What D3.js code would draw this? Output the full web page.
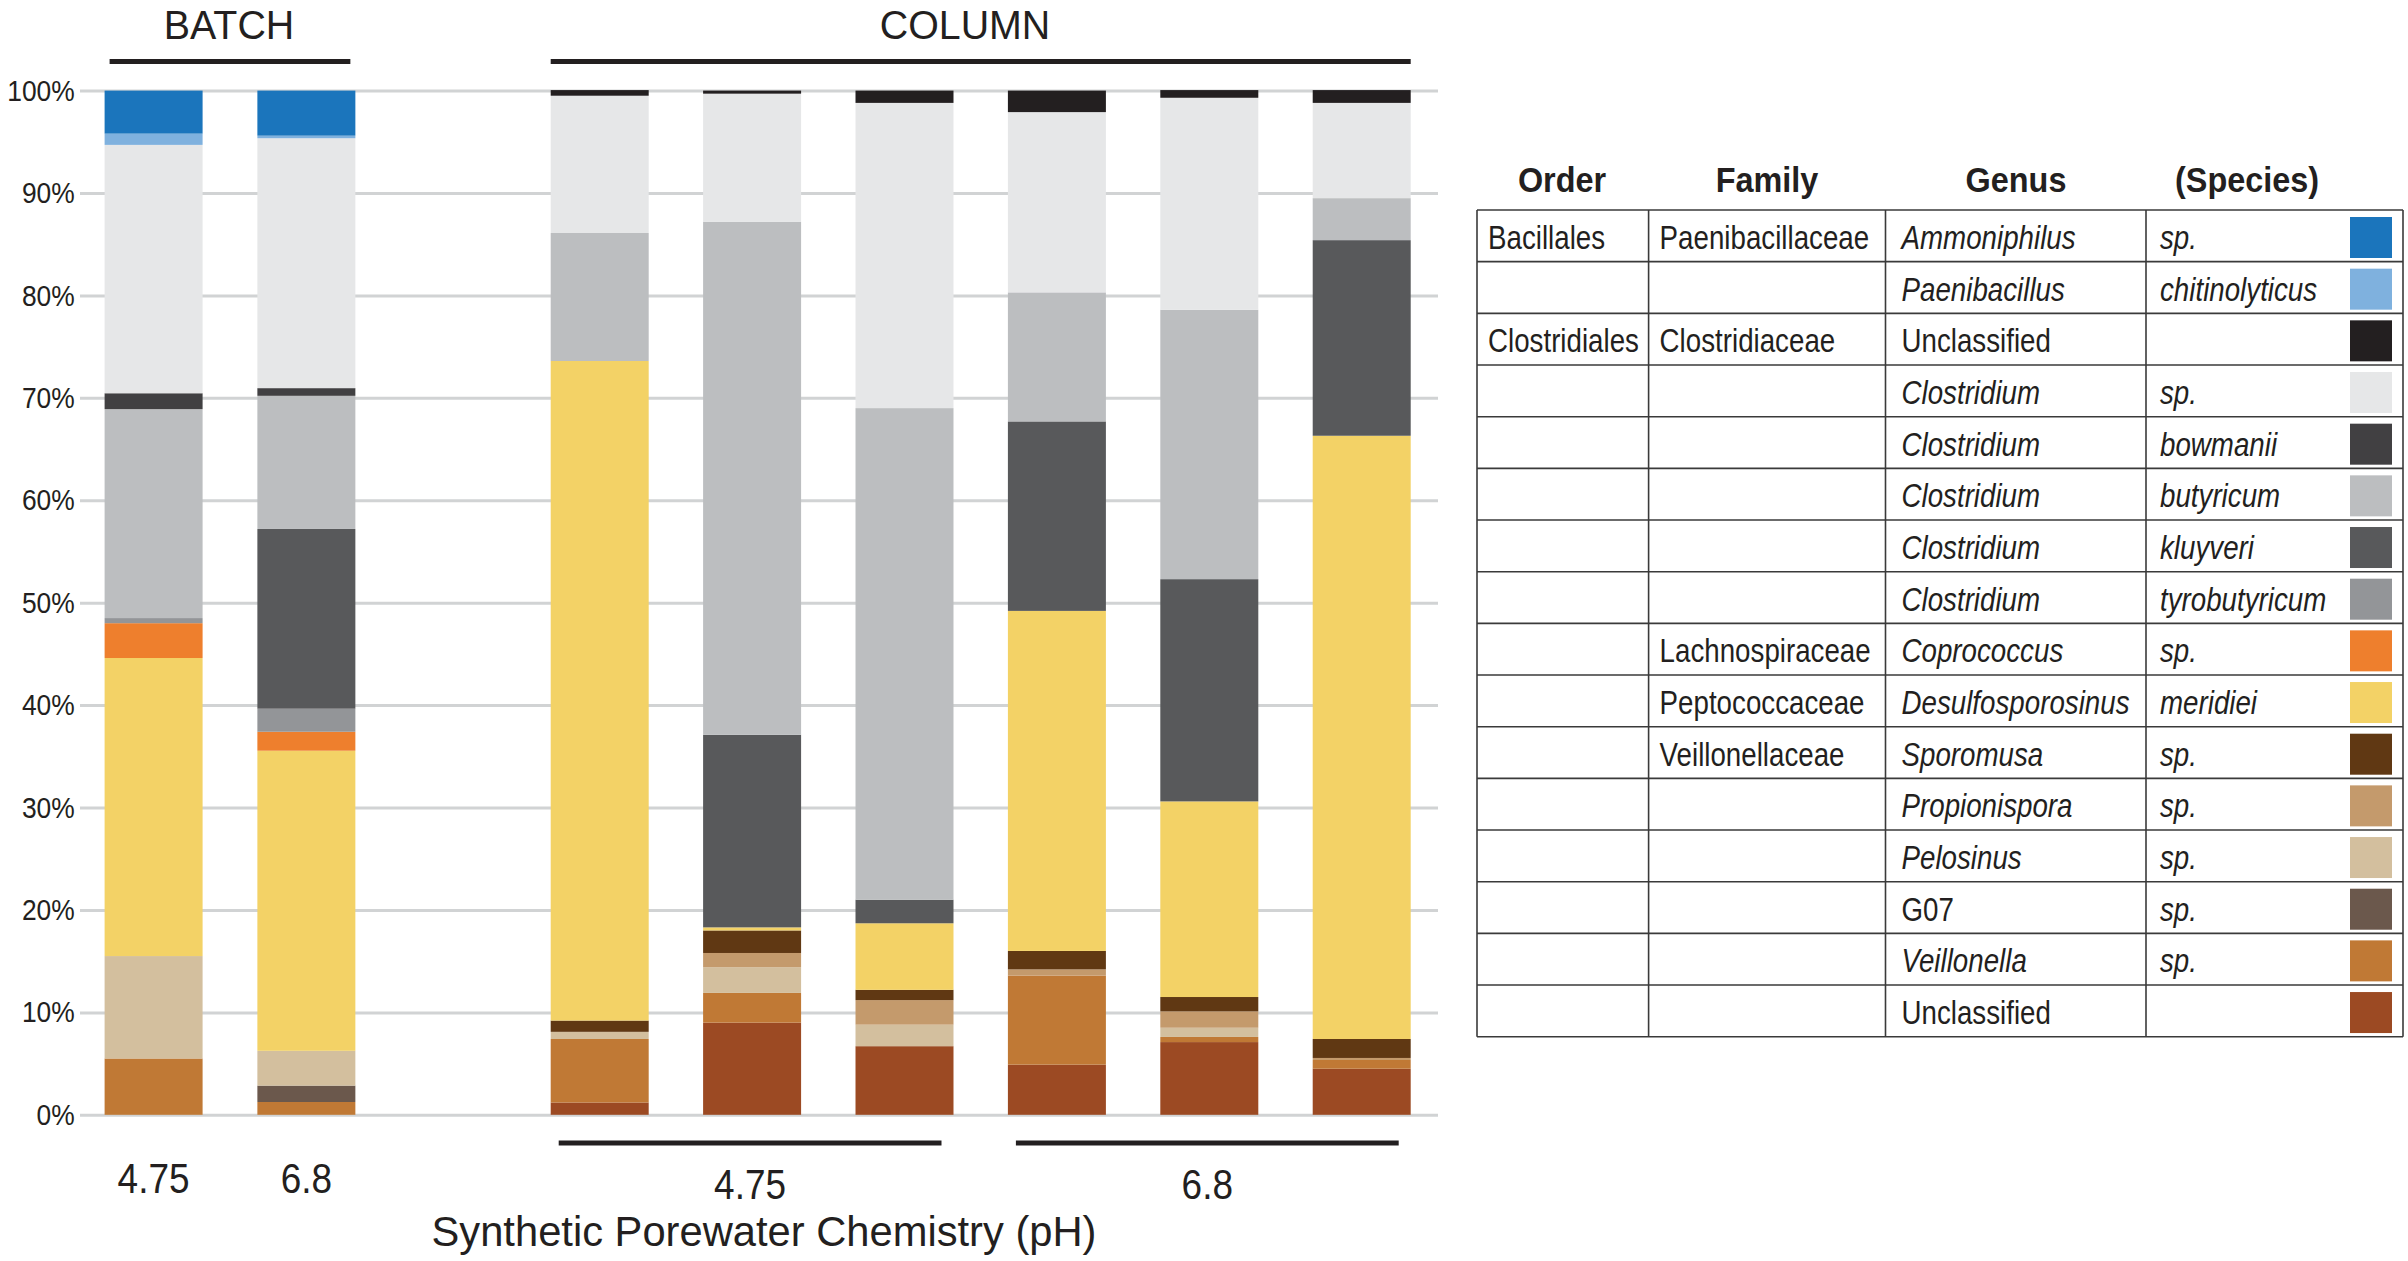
<!DOCTYPE html>
<html>
<head>
<meta charset="utf-8">
<script src="https://cdn.jsdelivr.net/npm/d3@7"></script>
<style>
  body { margin: 0; background: #fff; }
  svg { display: block; }
  text { font-family: "Liberation Sans", Arial, Helvetica, sans-serif; fill: #231f20; }
</style>
</head>
<body>
<svg id="chart" width="2408" height="1261"></svg>
<script>
const width = 2408, height = 1261;

// taxa, listed top to bottom as in the key
const orders   = ["Bacillales", "", "Clostridiales", "", "", "", "", "", "", "", "", "", "", "", "", ""];
const families = ["Paenibacillaceae", "", "Clostridiaceae", "", "", "", "", "", "Lachnospiraceae", "Peptococcaceae", "Veillonellaceae", "", "", "", "", ""];
const genera   = ["Ammoniphilus", "Paenibacillus", "Unclassified", "Clostridium", "Clostridium", "Clostridium", "Clostridium", "Clostridium",
                  "Coprococcus", "Desulfosporosinus", "Sporomusa", "Propionispora", "Pelosinus", "G07", "Veillonella", "Unclassified"];
const species  = ["sp.", "chitinolyticus", "", "sp.", "bowmanii", "butyricum", "kluyveri", "tyrobutyricum",
                  "sp.", "meridiei", "sp.", "sp.", "sp.", "sp.", "sp.", ""];
const italicGenus = [true, true, false, true, true, true, true, true, true, true, true, true, true, false, true, false];
const colors   = ["#1b75bc", "#7fb1de", "#231f20", "#e6e7e8", "#414042", "#bcbec0", "#58595b", "#939598",
                  "#ee7f2d", "#f3d266", "#603813", "#c49a6c", "#d3bf9e", "#6b584c", "#c07935", "#9c4a23"];

// relative abundance (%) of each taxon, same order as above
const batch475 = [4.2, 1.1, 0, 24.25, 1.55, 20.4, 0, 0.5, 3.4, 29.1, 0, 0, 10.0, 0, 5.5, 0];
const batch68  = [4.4, 0.25, 0, 24.4, 0.75, 13.0, 17.55, 2.25, 1.85, 29.3, 0, 0, 3.4, 1.6, 1.25, 0];
const col475a  = [0, 0, 0.55, 13.4, 0, 12.5, 0, 0, 0, 64.4, 1.1, 0, 0.7, 0, 6.2, 1.2];
const col475b  = [0, 0, 0.3, 12.5, 0, 50.1, 18.8, 0, 0, 0.3, 2.2, 1.4, 2.5, 0, 2.9, 9.0];
const col475c  = [0, 0, 1.2, 29.8, 0, 48.0, 2.3, 0, 0, 6.5, 1.0, 2.4, 2.1, 0, 0, 6.7];
const col68a   = [0, 0, 2.1, 17.6, 0, 12.6, 18.5, 0, 0, 33.2, 1.8, 0.6, 0, 0, 8.7, 4.9];
const col68b   = [0, 0, 0.75, 20.7, 0, 26.3, 21.7, 0, 0, 19.1, 1.4, 1.6, 0.9, 0, 0.5, 7.1];
const col68c   = [0, 0, 1.25, 9.3, 0, 4.1, 19.1, 0, 0, 58.9, 1.85, 0.2, 0, 0, 0.85, 4.5];

const batchIds  = ["b475", "b68"];
const batchPh   = ["4.75", "6.8"];
const columnIds = ["c475a", "c475b", "c475c", "c68a", "c68b", "c68c"];
const columnPh  = ["4.75", "6.8"];
const yTicks    = [0, 10, 20, 30, 40, 50, 60, 70, 80, 90, 100];

const samples = [
  { id: "b475",  values: batch475 },
  { id: "b68",   values: batch68 },
  { id: "c475a", values: col475a },
  { id: "c475b", values: col475b },
  { id: "c475c", values: col475c },
  { id: "c68a",  values: col68a },
  { id: "c68b",  values: col68b },
  { id: "c68c",  values: col68c }
];

const svg = d3.select("#chart");

// --- SCALES ---
const y = d3.scaleLinear().domain([0, 100]).range([1114.8, 90.6]);
const batchX = d3.scaleBand().domain(batchIds).range([104.6, 355.6]).paddingInner(0.357);
const colX = d3.scaleBand().domain(columnIds).range([550.7, 1410.7]).paddingInner(0.357);
const xPos = id => batchIds.includes(id) ? batchX(id) : colX(id);
const bw = colX.bandwidth();

// small helper: condensed text like the original figure
function label(parent, x, yy, str, size, sx, anchor, extra) {
  const t = parent.append("text")
    .attr("transform", `translate(${x},${yy}) scale(${sx},1)`)
    .attr("text-anchor", anchor)
    .attr("font-size", size)
    .text(str);
  if (extra && extra.bold) t.attr("font-weight", "bold");
  if (extra && extra.italic) t.attr("font-style", "italic");
  return t;
}

// --- GRID + Y AXIS ---
const yAxis = svg.append("g")
  .attr("transform", "translate(80,0)")
  .call(d3.axisLeft(y).tickValues(yTicks).tickFormat(d => d + "%").tickSize(-1358).tickPadding(6));
yAxis.select(".domain").remove();
yAxis.selectAll(".tick line").attr("stroke", "#d1d3d4").attr("stroke-width", 3);
yAxis.selectAll(".tick text")
  .attr("font-size", 30)
  .attr("fill", "#231f20")
  .attr("font-family", "Liberation Sans, Arial, sans-serif")
  .attr("transform", "scale(0.88,1)");

// --- STACKED BARS ---
const keys = d3.range(genera.length).reverse(); // bottom of the stack = last row of the key
const rows = samples.map(s => {
  const r = { id: s.id };
  s.values.forEach((v, i) => { r[i] = v; });
  return r;
});
const series = d3.stack().keys(keys)(rows);

svg.append("g")
  .selectAll("g")
  .data(series)
  .enter()
  .append("g")
  .attr("fill", d => colors[d.key])
  .selectAll("rect")
  .data(d => d.filter(p => p[1] - p[0] > 0))
  .enter()
  .append("rect")
  .attr("x", d => xPos(d.data.id))
  .attr("width", bw)
  .attr("y", d => y(d[1]))
  .attr("height", d => y(d[0]) - y(d[1]));

// --- GROUP HEADERS ---
const headG = svg.append("g");
headG.append("line")
  .attr("x1", batchX(batchIds[0]) + 5).attr("x2", batchX(batchIds[1]) + bw - 5)
  .attr("y1", 61.5).attr("y2", 61.5)
  .attr("stroke", "#231f20").attr("stroke-width", 5);
headG.append("line")
  .attr("x1", colX(columnIds[0])).attr("x2", colX(columnIds[5]) + bw)
  .attr("y1", 61.5).attr("y2", 61.5)
  .attr("stroke", "#231f20").attr("stroke-width", 5);
label(headG, 229, 39, "BATCH", 41, 0.96, "middle");
label(headG, 965, 39, "COLUMN", 41, 0.96, "middle");

// --- X LABELS ---
const footG = svg.append("g");
batchIds.forEach((id, i) => {
  label(footG, batchX(id) + bw / 2, 1193, batchPh[i], 43, 0.86, "middle");
});
[[0, 2], [3, 5]].forEach((pair, i) => {
  const x1 = colX(columnIds[pair[0]]) + 8;
  const x2 = colX(columnIds[pair[1]]) + bw - 12;
  footG.append("line")
    .attr("x1", x1).attr("x2", x2)
    .attr("y1", 1143).attr("y2", 1143)
    .attr("stroke", "#231f20").attr("stroke-width", 5);
  label(footG, (x1 + x2) / 2, 1199, columnPh[i], 43, 0.86, "middle");
});
label(footG, 764, 1246, "Synthetic Porewater Chemistry (pH)", 43, 0.97, "middle");

// --- KEY TABLE ---
const colEdges = [1477, 1648.6, 1885.5, 2146, 2403];
const tableTop = 210, rowH = 51.67;
const keyG = svg.append("g");

label(keyG, 1562, 192, "Order", 36, 0.9, "middle", { bold: true });
label(keyG, 1767, 192, "Family", 36, 0.9, "middle", { bold: true });
label(keyG, 2016, 192, "Genus", 36, 0.9, "middle", { bold: true });
label(keyG, 2247, 192, "(Species)", 36, 0.9, "middle", { bold: true });

const rowY = i => tableTop + i * rowH;

// horizontal rules
keyG.selectAll("line.h")
  .data(d3.range(genera.length + 1))
  .enter()
  .append("line")
  .attr("class", "h")
  .attr("x1", colEdges[0]).attr("x2", colEdges[4])
  .attr("y1", d => rowY(d)).attr("y2", d => rowY(d))
  .attr("stroke", "#3a3a3a").attr("stroke-width", 1.6);
// vertical rules
keyG.selectAll("line.v")
  .data(colEdges)
  .enter()
  .append("line")
  .attr("class", "v")
  .attr("x1", d => d).attr("x2", d => d)
  .attr("y1", rowY(0)).attr("y2", rowY(genera.length))
  .attr("stroke", "#3a3a3a").attr("stroke-width", 1.6);

genera.forEach((g, i) => {
  const base = rowY(i) + 39;
  if (orders[i]) label(keyG, colEdges[0] + 11, base, orders[i], 33, 0.84, "start");
  if (families[i]) label(keyG, colEdges[1] + 11, base, families[i], 33, 0.84, "start");
  label(keyG, colEdges[2] + 16, base, g, 33, 0.84, "start", { italic: italicGenus[i] });
  if (species[i]) label(keyG, colEdges[3] + 14, base, species[i], 33, 0.84, "start", { italic: true });
  keyG.append("rect")
    .attr("x", 2350).attr("y", rowY(i) + 7)
    .attr("width", 42).attr("height", 41)
    .attr("fill", colors[i]);
});
</script>
</body>
</html>
